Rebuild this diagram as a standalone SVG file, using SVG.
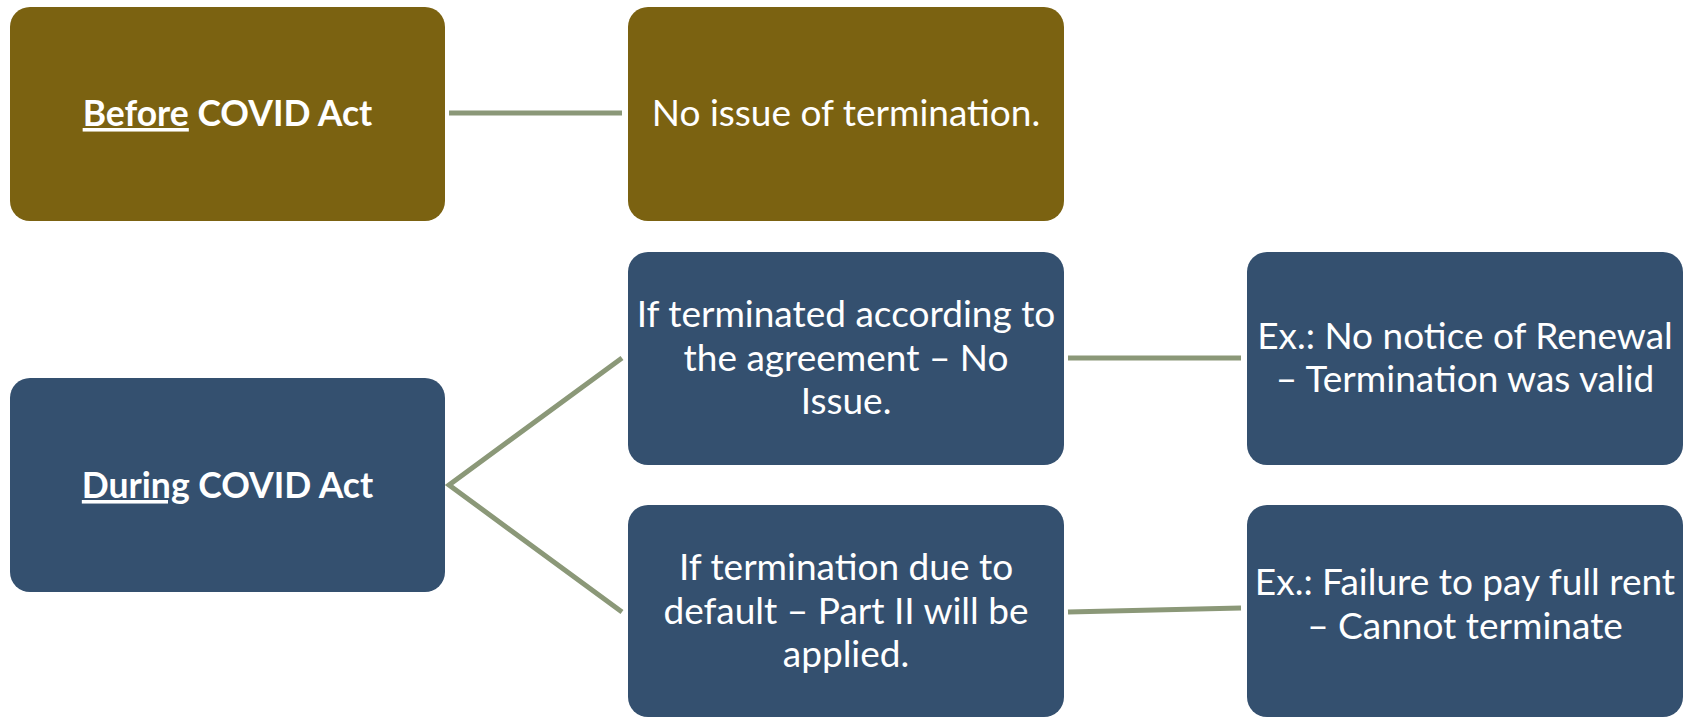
<svg xmlns="http://www.w3.org/2000/svg" width="1687" height="718" viewBox="0 0 1687 718">
<style>
.olive{fill:#7B6211}
.blue{fill:#34506F}
.t{font-family:Lato,"Open Sans","Liberation Sans",sans-serif;font-size:37px;fill:#fff;text-anchor:middle}
.b{font-weight:bold;font-size:35.5px}
.u{text-decoration:underline}
.c{stroke:#8B9878;stroke-width:5;fill:none;stroke-linecap:butt}
</style>
<rect width="1687" height="718" fill="#fff"/>
<g id="connectors">
<line class="c" x1="449" y1="113" x2="622" y2="113"/>
<polyline class="c" points="622,358 449,485 622,612"/>
<line class="c" x1="1068" y1="358" x2="1241" y2="358"/>
<line class="c" x1="1068" y1="612" x2="1241" y2="608"/>
</g>
<g id="before">
<rect class="olive" x="10" y="7" width="435" height="214" rx="20"/>
<text class="t b" x="227.5" y="126"><tspan class="u">Before</tspan> COVID Act</text>
</g>
<g id="no-issue">
<rect class="olive" x="628" y="7" width="436" height="214" rx="20"/>
<text class="t" x="846" y="126">No issue of termination.</text>
</g>
<g id="during">
<rect class="blue" x="10" y="378" width="435" height="214" rx="20"/>
<text class="t b" x="227.5" y="498"><tspan class="u">During</tspan> COVID Act</text>
</g>
<g id="terminated-agreement">
<rect class="blue" x="628" y="252" width="436" height="213" rx="20"/>
<text class="t" x="846" y="327">If terminated according to</text>
<text class="t" x="846" y="371">the agreement – No</text>
<text class="t" x="846" y="414">Issue.</text>
</g>
<g id="terminated-default">
<rect class="blue" x="628" y="505" width="436" height="212" rx="20"/>
<text class="t" x="846" y="580">If termination due to</text>
<text class="t" x="846" y="624">default – Part II will be</text>
<text class="t" x="846" y="667">applied.</text>
</g>
<g id="ex-renewal">
<rect class="blue" x="1247" y="252" width="436" height="213" rx="20"/>
<text class="t" x="1465" y="349">Ex.: No notice of Renewal</text>
<text class="t" x="1465" y="392">– Termination was valid</text>
</g>
<g id="ex-rent">
<rect class="blue" x="1247" y="505" width="436" height="212" rx="20"/>
<text class="t" x="1465" y="595">Ex.: Failure to pay full rent</text>
<text class="t" x="1465" y="639">– Cannot terminate</text>
</g>
</svg>
